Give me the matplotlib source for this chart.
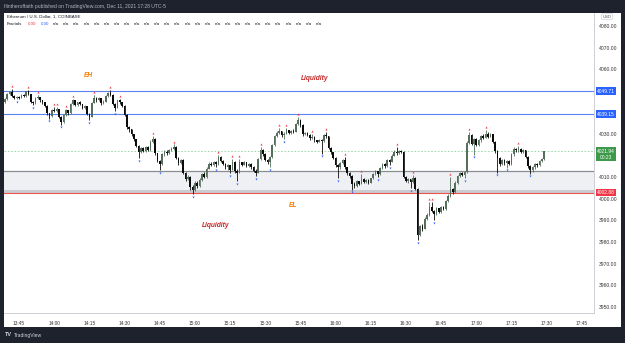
import numpy as np
import matplotlib
matplotlib.use("Agg")
import matplotlib.pyplot as plt
import matplotlib.transforms as mtransforms
from matplotlib.patches import Rectangle

plt.rcParams['font.family'] = ['Liberation Sans', 'DejaVu Sans']

# ETH/USD 1-minute candles, first bar 13:39
start_time = "13:39"
open0 = 4044.8
close = [
    4046.0, 4048.5, 4049.5, 4047.8, 4046.5, 4047.0, 4046.8, 4048.0, 4047.5, 4049.8,
    4048.4, 4045.0, 4044.2, 4046.5, 4047.0, 4045.5, 4044.8, 4043.0, 4039.5, 4038.2,
    4041.0, 4040.6, 4041.5, 4038.0, 4035.5, 4038.8, 4040.9, 4039.5, 4044.0, 4045.6,
    4043.2, 4044.6, 4043.8, 4042.0, 4043.0, 4039.2, 4038.0, 4044.5, 4046.8, 4045.5,
    4046.5, 4044.2, 4045.0, 4047.5, 4049.0, 4048.2, 4044.0, 4042.0, 4045.5, 4044.8,
    4043.0, 4039.0, 4033.0, 4032.2, 4030.0, 4027.5, 4024.5, 4021.5, 4023.5, 4022.2,
    4023.8, 4022.5, 4026.5, 4027.8, 4021.0, 4017.5, 4016.0, 4020.5, 4021.8, 4021.0,
    4022.4, 4023.2, 4024.0, 4019.0, 4016.5, 4018.0, 4012.0, 4009.0, 4010.2, 4005.5,
    4004.0, 4007.5, 4006.0, 4008.8, 4011.5, 4010.0, 4014.0, 4016.2, 4015.5, 4017.0,
    4016.0, 4019.5, 4017.5, 4016.0, 4014.5, 4015.5, 4013.5, 4017.2, 4013.0, 4012.0,
    4016.8, 4015.8, 4016.8, 4015.2, 4016.0, 4014.6, 4013.0, 4012.0, 4018.5, 4022.5,
    4020.5, 4018.0, 4016.8, 4019.5, 4025.0, 4029.0, 4030.5, 4031.2, 4029.4, 4030.2,
    4031.8, 4030.6, 4031.5, 4031.0, 4034.5, 4036.5, 4034.0, 4029.8, 4030.4, 4029.6,
    4028.0, 4028.8, 4027.0, 4026.5, 4027.2, 4026.8, 4029.6, 4029.0, 4023.5, 4021.5,
    4019.0, 4015.5, 4014.5, 4016.5, 4017.8, 4014.5, 4012.0, 4010.5, 4007.0, 4006.0,
    4008.0, 4006.8, 4009.0, 4007.8, 4008.8, 4007.5, 4009.4, 4011.5, 4012.8, 4011.5,
    4014.2, 4016.0, 4015.0, 4018.0, 4017.2, 4020.0, 4021.8, 4021.0, 4022.2, 4021.6,
    4010.0, 4008.2, 4009.0, 4007.6, 4009.8, 4004.5, 3983.0, 3987.5, 3986.0, 3990.8,
    3992.6, 3996.0, 3994.5, 3993.0, 3995.5, 3994.0, 3996.2, 3995.2, 3998.8, 4001.5,
    4004.5, 4003.0, 4007.5, 4010.4, 4012.0, 4011.0, 4012.2, 4026.0, 4029.5, 4025.5,
    4027.5, 4024.8, 4027.0, 4029.0, 4028.2, 4030.2, 4028.8, 4030.0, 4026.5, 4022.0,
    4019.0, 4016.0, 4018.0, 4016.4, 4017.4, 4016.0, 4020.5, 4023.2, 4022.4, 4023.0,
    4021.8, 4022.6, 4019.5, 4015.0, 4013.4, 4014.6, 4016.0, 4015.4, 4017.5, 4018.2,
    4021.94,
]
high = [
    4046.6, 4049.0, 4050.0, 4050.7, 4048.2, 4047.5, 4047.8, 4048.5, 4048.6, 4050.0,
    4050.3, 4048.6, 4045.3, 4046.9, 4047.9, 4047.2, 4045.8, 4045.0, 4043.2, 4039.8,
    4041.4, 4042.4, 4042.4, 4041.7, 4038.2, 4039.2, 4041.5, 4041.0, 4044.5, 4046.1,
    4045.8, 4045.0, 4045.2, 4044.0, 4043.4, 4043.1, 4039.5, 4045.0, 4047.9, 4047.2,
    4047.0, 4046.6, 4045.5, 4048.0, 4049.5, 4050.3, 4048.4, 4044.2, 4045.8, 4046.1,
    4045.0, 4043.2, 4039.2, 4033.8, 4032.5, 4030.2, 4027.8, 4024.8, 4024.0, 4024.0,
    4024.3, 4024.2, 4027.0, 4029.0, 4028.0, 4021.4, 4018.0, 4021.0, 4022.4, 4022.6,
    4023.0, 4024.0, 4025.2, 4024.4, 4019.5, 4018.5, 4018.2, 4012.5, 4010.8, 4010.4,
    4006.5, 4008.0, 4008.2, 4009.4, 4012.0, 4012.2, 4014.5, 4016.8, 4016.8, 4017.5,
    4017.4, 4020.2, 4019.8, 4018.0, 4016.4, 4016.0, 4015.8, 4018.5, 4017.4, 4013.6,
    4018.5, 4017.2, 4017.4, 4017.0, 4016.6, 4016.4, 4015.0, 4013.6, 4019.0, 4023.9,
    4023.0, 4021.0, 4018.5, 4020.0, 4025.5, 4029.5, 4031.2, 4032.7, 4031.5, 4030.8,
    4032.7, 4032.0, 4032.0, 4032.2, 4035.0, 4037.8, 4037.0, 4034.4, 4031.0, 4030.8,
    4029.8, 4029.9, 4029.0, 4027.4, 4027.8, 4027.6, 4030.2, 4030.8, 4029.2, 4024.0,
    4021.8, 4019.4, 4016.0, 4017.0, 4018.4, 4019.2, 4014.8, 4012.4, 4010.8, 4007.6,
    4008.6, 4008.4, 4011.6, 4009.4, 4009.2, 4009.0, 4009.8, 4012.0, 4013.4, 4013.0,
    4014.8, 4016.5, 4016.4, 4018.6, 4018.4, 4020.5, 4022.4, 4023.9, 4022.8, 4022.6,
    4022.0, 4010.4, 4009.6, 4009.2, 4010.9, 4010.0, 4004.8, 3988.0, 3988.4, 3991.4,
    3993.2, 3998.4, 3998.4, 3995.0, 3996.0, 3995.8, 3996.8, 3996.6, 3999.4, 4002.0,
    4010.0, 4005.0, 4008.0, 4011.0, 4012.6, 4012.6, 4013.0, 4026.8, 4030.8, 4030.0,
    4028.2, 4028.0, 4027.6, 4029.6, 4029.8, 4031.7, 4030.8, 4030.6, 4030.2, 4026.8,
    4022.4, 4019.4, 4018.6, 4018.4, 4018.0, 4017.8, 4021.0, 4023.8, 4023.6, 4024.4,
    4023.4, 4023.2, 4022.8, 4019.8, 4015.4, 4015.2, 4016.6, 4016.6, 4018.0, 4018.8,
    4022.3,
]
low = [
    4044.5, 4045.8, 4048.0, 4047.2, 4046.0, 4046.3, 4046.4, 4046.6, 4047.0, 4047.3,
    4047.9, 4044.5, 4043.5, 4044.0, 4046.2, 4045.0, 4044.0, 4042.5, 4038.8, 4037.1,
    4038.0, 4040.0, 4040.3, 4037.4, 4034.3, 4035.2, 4038.5, 4039.0, 4039.3, 4043.6,
    4042.8, 4043.0, 4043.2, 4041.5, 4041.6, 4038.6, 4036.6, 4037.8, 4044.2, 4045.0,
    4045.2, 4043.6, 4043.8, 4044.8, 4047.2, 4047.6, 4043.5, 4040.5, 4041.8, 4044.0,
    4042.4, 4038.5, 4032.2, 4031.0, 4029.2, 4026.8, 4023.8, 4019.0, 4021.0, 4021.6,
    4021.8, 4022.0, 4022.2, 4026.0, 4020.4, 4016.8, 4013.4, 4015.6, 4020.0, 4020.4,
    4020.6, 4022.0, 4022.8, 4018.4, 4015.8, 4016.0, 4011.4, 4008.2, 4008.6, 4004.0,
    4002.3, 4003.6, 4005.2, 4005.6, 4008.4, 4009.4, 4009.8, 4013.6, 4015.0, 4015.2,
    4014.8, 4015.8, 4016.8, 4015.4, 4013.8, 4013.5, 4012.0, 4013.2, 4012.0, 4008.3,
    4011.8, 4015.2, 4015.4, 4014.6, 4014.8, 4014.0, 4012.4, 4010.6, 4011.8, 4018.0,
    4019.8, 4017.4, 4016.0, 4014.8, 4019.0, 4024.6, 4028.5, 4029.8, 4028.6, 4027.8,
    4029.8, 4030.0, 4030.2, 4030.4, 4030.8, 4034.0, 4033.4, 4029.2, 4029.4, 4029.0,
    4027.4, 4027.6, 4026.4, 4025.8, 4026.2, 4020.9, 4026.4, 4028.2, 4023.0, 4020.8,
    4018.2, 4014.8, 4009.5, 4014.0, 4016.0, 4013.8, 4011.2, 4009.8, 4004.2, 4005.2,
    4005.6, 4006.2, 4006.6, 4007.2, 4007.4, 4007.0, 4007.2, 4009.0, 4011.0, 4010.2,
    4011.2, 4013.8, 4014.4, 4014.8, 4015.7, 4016.8, 4019.6, 4020.4, 4020.6, 4021.0,
    4009.4, 4007.6, 4007.4, 4005.1, 4007.2, 4004.0, 3981.0, 3982.6, 3985.2, 3985.8,
    3990.2, 3992.2, 3993.8, 3990.3, 3992.4, 3993.2, 3993.6, 3994.6, 3995.0, 3998.4,
    4001.0, 4002.4, 4002.6, 4007.0, 4010.0, 4010.4, 4009.7, 4011.8, 4025.5, 4024.8,
    4020.4, 4024.2, 4024.4, 4026.4, 4027.6, 4028.0, 4028.2, 4028.4, 4025.8, 4021.4,
    4012.1, 4015.2, 4015.4, 4015.8, 4014.4, 4015.4, 4015.8, 4020.0, 4021.8, 4021.8,
    4021.2, 4021.2, 4018.8, 4014.4, 4011.6, 4012.6, 4014.0, 4014.8, 4015.0, 4017.0,
    4017.8,
]

# bar indices flagged by the Fractals indicator
up_fractals = [3, 10, 14, 21, 22, 26, 29, 38, 45, 49, 63, 72, 91, 97, 100, 109, 117,
               120, 125, 131, 137, 145, 152, 167, 174, 181, 182, 190, 198, 205, 219]
down_fractals = [5, 12, 19, 24, 36, 47, 57, 66, 80, 90, 96, 99, 107, 113, 119, 135,
                 142, 148, 159, 164, 173, 176, 183, 196, 200, 210, 214, 224]

# drawn levels
eh_level = 4049.71
mid_level = 4039.15
last_price = 4021.94
zone_top = 4012.9
el_level = 4002.88

time_labels = ['13:45', '14:00', '14:15', '14:30', '14:45', '15:00', '15:15', '15:30',
               '15:45', '16:00', '16:15', '16:30', '16:45', '17:00', '17:15', '17:30', '17:45']
price_ticks = [4080, 4070, 4060, 4030, 4010, 4000, 3990, 3980, 3970, 3960, 3950]


def to_min(s):
    h, m = s.split(':')
    return int(h) * 60 + int(m)


W, H = 625, 343
fig = plt.figure(figsize=(W / 100, H / 100), dpi=100, facecolor='#1e222d')
fig.add_artist(Rectangle((4 / W, 1 - 327 / H), 617 / W, 314 / H, transform=fig.transFigure,
                         facecolor='white', edgecolor='none', zorder=-5))
ax = fig.add_axes([4 / W, 1 - 313 / H, 590 / W, 300 / H])
ax.set_facecolor('white')

c = np.array(close)
o = np.concatenate([[open0], c[:-1]])
hi = np.maximum(np.array(high), np.maximum(o, c))
lo = np.minimum(np.array(low), np.minimum(o, c))
x = to_min(start_time) + np.arange(len(c))
up = c >= o
cols = np.where(up, '#566f5c', '#0b0b0b')

# zone and levels
ax.axhspan(el_level, zone_top, facecolor='#eef0f3', edgecolor='none', zorder=1)
ax.axhspan(el_level, el_level + 1.1, facecolor='#c9cbd0', edgecolor='none', zorder=1)
ax.axhline(zone_top, color='#8a8d93', lw=0.9, zorder=1.5)
ax.axhline(el_level, color='#ef5350', lw=0.8, zorder=1.5)
ax.axhline(eh_level, color='#5b83ee', lw=0.8, zorder=1.5)
ax.axhline(mid_level, color='#5b83ee', lw=0.8, zorder=1.5)
ax.axhline(last_price, color='#8fd39c', lw=0.6, ls=(0, (2, 2)), zorder=1.5)

ax.vlines(x, lo, hi, colors=cols, lw=0.6, zorder=3)
ax.bar(x, np.maximum(np.abs(c - o), 0.3), bottom=np.minimum(o, c), width=0.7,
       color=cols, linewidth=0, zorder=3)

ax.scatter(x[up_fractals], hi[up_fractals] + 1.3, marker='^', s=2.2, color='#f23645',
           linewidths=0, zorder=4)
ax.scatter(x[down_fractals], lo[down_fractals] - 1.3, marker='v', s=2.2, color='#2962ff',
           linewidths=0, zorder=4)

# annotations
ax.text(854.4, 4056.9, 'EH', color='#f57c00', fontsize=4.8, style='italic',
        weight='bold', ha='center', va='center', zorder=5)
ax.text(951.2, 4055.5, 'Liquidity', color='#c62828', fontsize=4.8, style='italic',
        weight='bold', ha='center', va='center', zorder=5)
ax.text(941.8, 3997.1, 'EL', color='#f57c00', fontsize=4.8, style='italic',
        weight='bold', ha='center', va='center', zorder=5)
ax.text(909.0, 3987.4, 'Liquidity', color='#c62828', fontsize=4.8, style='italic',
        weight='bold', ha='center', va='center', zorder=5)

ax.set_xlim(818.6, 1070.2)
ax.set_ylim(3947.1, 4086.0)
ax.set_xticks([to_min(t) for t in time_labels])
ax.set_xticklabels(time_labels)
ax.yaxis.tick_right()
ax.set_yticks(price_ticks)
ax.set_yticklabels([f'{p:.2f}' for p in price_ticks])
ax.tick_params(axis='x', length=0, pad=6, labelsize=3.4, labelcolor='#333333')
ax.tick_params(axis='y', length=0, pad=3.5, labelsize=3.6, labelcolor='#333333')
for s in ['left', 'top']:
    ax.spines[s].set_visible(False)
for s in ['right', 'bottom']:
    ax.spines[s].set_color('#c5c8ce')
    ax.spines[s].set_linewidth(0.6)

# price scale tags
tr = mtransforms.blended_transform_factory(ax.transAxes, ax.transData)
xc = (606 - 4) / 590
ax.text(xc, eh_level, f'{eh_level:.2f}', transform=tr, fontsize=3.5, color='white',
        ha='center', va='center', clip_on=False,
        bbox=dict(boxstyle='square,pad=0.3', fc='#2962ff', ec='none'))
ax.text(xc, mid_level, f'{mid_level:.2f}', transform=tr, fontsize=3.5, color='white',
        ha='center', va='center', clip_on=False,
        bbox=dict(boxstyle='square,pad=0.3', fc='#2962ff', ec='none'))
ax.text(xc, last_price + 1.2, f'{last_price:.2f}\n00:23', transform=tr, fontsize=3.5,
        color='white', ha='center', va='top', linespacing=1.2, clip_on=False,
        bbox=dict(boxstyle='square,pad=0.3', fc='#3d9a4a', ec='none'))
ax.text(xc, el_level, f'{el_level:.2f}', transform=tr, fontsize=3.5, color='white',
        ha='center', va='center', clip_on=False,
        bbox=dict(boxstyle='square,pad=0.3', fc='#f23645', ec='none'))

# header / footer
fig.text(4 / W, 1 - 6.5 / H, 'flintheroffaith published on TradingView.com, Dec 11, 2021 17:28 UTC-5',
         color='#b2b5be', fontsize=3.6, va='center')
fig.text(7 / W, 1 - 17 / H, 'Ethereum / U.S. Dollar, 1, COINBASE', color='#131722',
         fontsize=3.2, va='center')
fy = 1 - 24 / H
fig.text(7 / W, fy, 'Fractals', color='#131722', fontsize=3.2, va='center')
fig.text(28 / W, fy, '0.00', color='#f23645', fontsize=3.2, va='center')
fig.text(41 / W, fy, '0.00', color='#2962ff', fontsize=3.2, va='center')
for k in range(27):
    fig.text((53 + k * 10.1) / W, fy, 'n/a', color='#131722', fontsize=3.2, va='center')
fig.text(607 / W, 1 - 16.5 / H, 'USD', color='#555555', fontsize=3, ha='center', va='center',
         bbox=dict(boxstyle='round,pad=0.3,rounding_size=0.5', fc='white', ec='#c5c8ce', lw=0.4))
fig.text(5 / W, 1 - 335 / H, 'TV', color='#d1d4dc', fontsize=4, weight='bold', va='center')
fig.text(14 / W, 1 - 335 / H, 'TradingView', color='#d1d4dc', fontsize=3.6, va='center')

fig.savefig('out.png', dpi=100, facecolor=fig.get_facecolor())
